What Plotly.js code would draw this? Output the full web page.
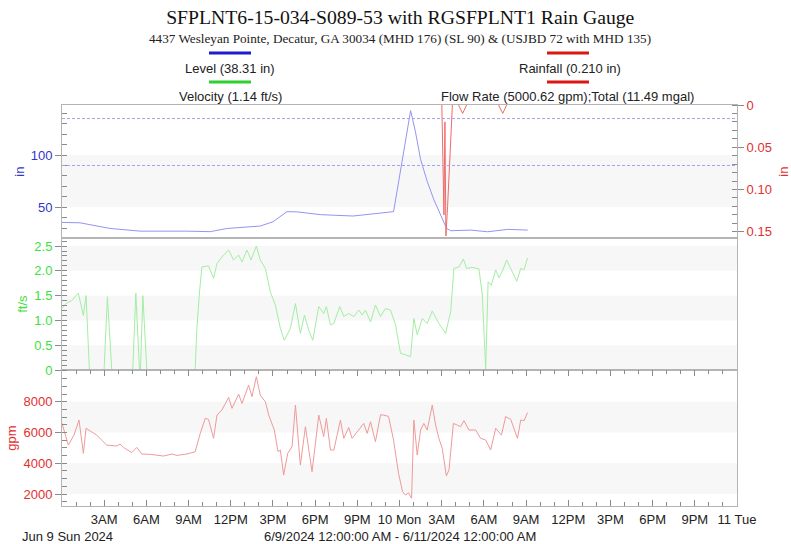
<!DOCTYPE html>
<html>
<head>
<meta charset="utf-8">
<script src="https://cdn.plot.ly/plotly-3.0.1.min.js"></script>
<style>html,body{margin:0;padding:0;background:#fff;}#chart{width:791px;height:544px;}</style>
</head>
<body>
<div id="chart"></div>
<script>
// ---- data (hours since Jun 9 2024 00:00) ----
const levelHours = [0, 1.28, 3.42, 5.56, 8.9, 10.54, 11.75, 14.1, 15.0, 16.0, 16.7, 18.4, 20.7, 22.6, 23.58, 24.79, 25.14, 25.5, 25.97, 26.45, 26.92, 27.35, 27.64, 29.06, 30.27, 31.7, 33.12];
const levelIn = [35.4, 35, 29.6, 27, 27, 26.5, 29.6, 31.9, 36, 45.7, 45.5, 42.8, 41.5, 44, 45.7, 142.6, 122, 95.8, 74.8, 57, 42.5, 29.6, 27.4, 28, 26.4, 28.7, 28];

const rainHours = [27.01, 27.16, 27.23, 27.3, 27.42, 27.76, 27.9, 28.2, 28.49, 28.77, 29.0, 31.05, 31.34, 31.62];
const rainIn = [0, 0.13, 0.02, 0.155, 0.12, 0, null, 0, 0.01, 0, null, 0, 0.01, 0];

const velHours = [0, 0.33, 0.69, 1.16, 1.52, 1.71, 1.95, 2.99, 3.23, 3.54, 5.03, 5.25, 5.51, 5.58, 5.75, 6.03, 9.47, 9.59, 9.78, 9.95, 10.42, 10.78, 11.02, 11.49, 11.85, 12.2, 12.56, 12.8, 13.15, 13.44, 13.82, 14.1, 14.46, 14.81, 15.17, 15.53, 15.81, 16.24, 16.6, 16.95, 17.24, 17.54, 17.83, 18.26, 18.61, 18.8, 19.09, 19.33, 19.75, 20.04, 20.39, 20.75, 21.11, 21.35, 21.58, 21.94, 22.29, 22.65, 23.0, 23.36, 23.72, 24.07, 24.79, 25.02, 25.26, 25.62, 25.97, 26.33, 26.8, 27.28, 27.64, 27.87, 28.23, 28.54, 28.77, 29.18, 29.65, 29.89, 30.13, 30.3, 30.53, 30.84, 31.08, 31.32, 31.62, 32.03, 32.34, 32.62, 32.86, 33.1];
const velFts = [1.25, 1.35, 1.40, 1.55, 1.10, 1.50, 0, 0, 1.48, 0, 0, 1.55, 0, 0, 1.50, 0, 0, 0.84, 1.58, 2.08, 2.10, 1.85, 2.15, 2.32, 2.42, 2.22, 2.32, 2.18, 2.42, 2.22, 2.50, 2.22, 2.05, 1.58, 1.31, 0.84, 0.60, 0.84, 1.34, 0.74, 1.11, 0.81, 0.60, 1.28, 1.14, 1.28, 0.91, 0.94, 1.28, 1.08, 1.14, 1.08, 1.21, 1.11, 1.21, 0.97, 1.31, 1.08, 1.24, 1.21, 0.91, 0.34, 0.27, 1.04, 0.71, 1.04, 0.94, 1.19, 0.94, 0.74, 1.18, 2.05, 2.08, 2.24, 2.05, 2.07, 2.04, 1.51, 0, 1.78, 1.71, 2.02, 1.86, 2.0, 2.22, 1.98, 1.79, 2.05, 2.02, 2.26];

const flowHours = [0, 0.45, 0.85, 1.21, 1.52, 1.71, 2.47, 3.18, 3.9, 4.13, 4.37, 4.96, 5.32, 5.67, 6.27, 7.22, 7.81, 8.17, 8.88, 9.47, 9.83, 10.19, 10.42, 10.78, 11.02, 11.37, 11.85, 12.09, 12.56, 12.8, 13.27, 13.51, 13.82, 14.1, 14.46, 14.7, 15.1, 15.36, 15.53, 15.76, 16.05, 16.36, 16.6, 16.95, 17.31, 17.78, 18.26, 18.61, 18.8, 19.09, 19.33, 19.8, 20.04, 20.39, 20.63, 21.11, 21.46, 21.7, 21.94, 22.29, 22.65, 22.86, 23.22, 23.58, 23.93, 24.22, 24.43, 24.64, 24.86, 25.02, 25.26, 25.5, 25.73, 25.97, 26.33, 26.57, 26.8, 27.04, 27.33, 27.52, 27.83, 28.11, 28.35, 28.58, 28.94, 29.42, 29.77, 30.13, 30.48, 30.84, 30.96, 31.25, 31.55, 31.91, 32.39, 32.62, 32.86, 33.1];
const flowGpm = [6600, 5180, 5830, 6810, 4640, 6270, 5830, 5180, 5120, 5250, 5030, 4690, 5030, 4600, 4580, 4470, 4600, 4510, 4600, 4750, 5940, 6920, 6850, 5620, 7130, 7460, 8280, 7570, 8500, 7890, 9080, 8330, 9630, 8430, 8000, 7130, 6160, 4750, 4860, 3230, 4640, 5080, 7780, 3880, 6380, 3450, 7130, 5730, 6920, 4860, 4860, 6810, 5620, 6330, 5620, 6160, 6590, 5940, 6700, 5400, 7150, 7130, 7050, 5500, 3340, 2150, 1930, 2080, 1720, 6810, 4530, 6160, 6590, 6160, 7780, 6480, 5620, 4970, 3170, 3560, 6590, 6480, 6380, 6770, 6160, 6160, 5620, 5510, 4860, 6270, 6160, 5830, 7030, 6850, 5620, 6810, 6770, 7290];

const xTickHours = [0, 3, 6, 9, 12, 15, 18, 21, 24, 27, 30, 33, 36, 39, 42, 45, 48];
const xTickLabels = ['', '3AM', '6AM', '9AM', '12PM', '3PM', '6PM', '9PM', '10 Mon', '3AM', '6AM', '9AM', '12PM', '3PM', '6PM', '9PM', '11 Tue'];

const levelRefLines = [135, 90];   // MHD 135, SL 90

// ---- styling ----
const FONT = 'Liberation Sans, Arial, sans-serif';
const SERIF = 'Liberation Serif, Times New Roman, serif';
const BLUE = '#3535c8', GREEN = '#3ee03e', RED = '#e23030';
const BORDER = '#b4b4b4', TICK = '#8a8a8a', BAND = '#f7f7f7';

const traces = [
  {x: levelHours, y: levelIn, type: 'scatter', mode: 'lines', line: {color: '#9494f0', width: 1}, xaxis: 'x', yaxis: 'y', hoverinfo: 'skip'},
  {x: rainHours, y: rainIn, type: 'scatter', mode: 'lines', connectgaps: false, line: {color: '#ee6a6a', width: 1}, xaxis: 'x', yaxis: 'y4', hoverinfo: 'skip'},
  {x: velHours, y: velFts, type: 'scatter', mode: 'lines', line: {color: '#a2eea2', width: 1}, xaxis: 'x', yaxis: 'y2', hoverinfo: 'skip'},
  {x: flowHours, y: flowGpm, type: 'scatter', mode: 'lines', line: {color: '#ef9a9a', width: 1}, xaxis: 'x', yaxis: 'y3', hoverinfo: 'skip'}
];

function band(yref, y0, y1) {
  return {type: 'rect', xref: 'paper', x0: 0, x1: 1, yref: yref, y0: y0, y1: y1, fillcolor: BAND, line: {width: 0}, layer: 'below'};
}
const shapes = [
  band('y', 50, 100),
  band('y2', 0, 0.5), band('y2', 1.0, 1.5), band('y2', 2.0, 2.5),
  band('y3', 2000, 4000), band('y3', 6000, 8000)
];
levelRefLines.forEach(v => shapes.push({type: 'line', xref: 'paper', x0: 0, x1: 1, yref: 'y', y0: v, y1: v, line: {color: '#a2a2ea', width: 1, dash: '3px,2px'}, layer: 'above'}));

// legend swatches (paper coordinates)
function px2x(px) { return (px - 62) / 675; }
function py2y(py) { return (506 - py) / 401; }
function swatch(cx, py, color) {
  return {type: 'line', xref: 'paper', yref: 'paper', x0: px2x(cx - 21), x1: px2x(cx + 21), y0: py2y(py), y1: py2y(py), line: {color: color, width: 3}};
}
shapes.push(swatch(230, 53, '#1c1cd0'), swatch(230, 82, '#2fcf2f'), swatch(568, 53, '#dd1515'), swatch(568, 82, '#dd1515'));

function txt(text, cx, py, size, fam, anchor) {
  return {text: text, xref: 'paper', yref: 'paper', x: px2x(cx), y: py2y(py), xanchor: anchor || 'center', yanchor: 'middle', showarrow: false, font: {family: fam || FONT, size: size, color: '#222'}};
}
const annotations = [
  txt('4437 Wesleyan Pointe, Decatur, GA 30034 (MHD 176) (SL 90) &amp; (USJBD 72 with MHD 135)', 400, 38, 13.2, SERIF),
  txt('Level (38.31 in)', 230, 68, 13),
  txt('Velocity (1.14 ft/s)', 230, 97, 13),
  txt('Rainfall (0.210 in)', 570, 68, 13),
  txt('Flow Rate (5000.62 gpm);Total (11.49 mgal)', 567, 97, 13),
  txt('Jun 9 Sun 2024', 20, 536, 13, FONT, 'left'),
  txt('6/9/2024 12:00:00 AM - 6/11/2024 12:00:00 AM', 400, 536, 13)
];

function yax(extra) {
  return Object.assign({
    anchor: 'x', showline: true, linecolor: BORDER, linewidth: 1, mirror: true,
    showgrid: false, zeroline: false, ticks: 'outside', ticklen: 6, tickcolor: TICK,
    fixedrange: true
  }, extra);
}

const layout = {
  width: 791, height: 544,
  margin: {l: 62, r: 54, t: 105, b: 38},
  paper_bgcolor: '#ffffff', plot_bgcolor: '#ffffff',
  showlegend: false,
  title: {text: 'SFPLNT6-15-034-S089-53 with RGSFPLNT1 Rain Gauge', x: 0.506, xanchor: 'center', y: 1 - 17 / 544, yanchor: 'middle', font: {family: SERIF, size: 19.7, color: '#111'}},
  xaxis: {
    anchor: 'y3', domain: [0, 1], range: [0, 48], type: 'linear',
    tickvals: xTickHours, ticktext: xTickLabels,
    ticks: 'inside', ticklen: 6, tickcolor: TICK, ticklabelstandoff: 1,
    minor: {dtick: 1, tick0: 0, ticks: 'inside', ticklen: 4, tickcolor: TICK},
    showline: true, linecolor: BORDER, mirror: 'all', showgrid: false, zeroline: false,
    tickfont: {family: FONT, size: 13, color: '#222'}, fixedrange: true
  },
  yaxis: yax({
    domain: [0.668, 1], range: [20.3, 148], tickvals: [50, 100],
    minor: {dtick: 10, tick0: 0, ticks: 'inside', ticklen: 5, tickcolor: TICK},
    tickfont: {family: FONT, size: 13, color: BLUE},
    title: {text: 'in', font: {family: FONT, size: 13, color: BLUE}, standoff: 3}
  }),
  yaxis4: {
    overlaying: 'y', side: 'right', anchor: 'x', range: [0.1575, 0],
    tickvals: [0, 0.05, 0.10, 0.15], ticktext: ['0', '0.05', '0.10', '0.15'],
    ticks: 'outside', ticklen: 6, tickcolor: TICK,
    minor: {dtick: 0.01, tick0: 0, ticks: 'inside', ticklen: 5, tickcolor: TICK},
    showline: true, linecolor: BORDER, showgrid: false, zeroline: false,
    tickfont: {family: FONT, size: 13, color: RED},
    title: {text: 'in', font: {family: FONT, size: 13, color: RED}, standoff: 15},
    fixedrange: true
  },
  yaxis2: yax({
    domain: [0.339, 0.668], range: [0, 2.66],
    tickvals: [0, 0.5, 1.0, 1.5, 2.0, 2.5], ticktext: ['0', '0.5', '1.0', '1.5', '2.0', '2.5'],
    minor: {dtick: 0.1, tick0: 0, ticks: 'inside', ticklen: 5, tickcolor: TICK},
    tickfont: {family: FONT, size: 13, color: GREEN},
    title: {text: 'ft/s', font: {family: FONT, size: 13, color: GREEN}, standoff: 3}
  }),
  yaxis3: yax({
    domain: [0, 0.339], range: [1220, 10060],
    tickvals: [2000, 4000, 6000, 8000],
    minor: {dtick: 500, tick0: 0, ticks: 'inside', ticklen: 5, tickcolor: TICK},
    tickfont: {family: FONT, size: 13, color: RED},
    title: {text: 'gpm', font: {family: FONT, size: 13, color: RED}, standoff: 3}
  }),
  shapes: shapes,
  annotations: annotations
};

Plotly.newPlot('chart', traces, layout, {displayModeBar: false, staticPlot: true});
</script>
</body>
</html>
